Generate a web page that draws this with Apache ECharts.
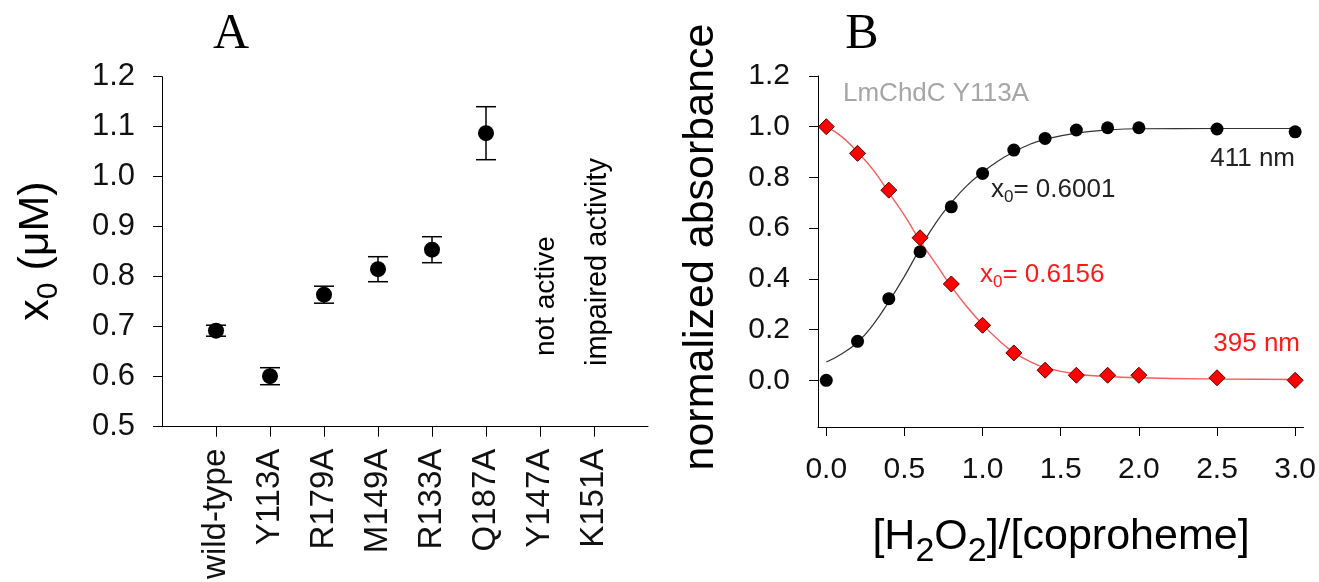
<!DOCTYPE html>
<html>
<head>
<meta charset="utf-8">
<script src="https://cdn.jsdelivr.net/npm/echarts@6/dist/echarts.min.js"></script>
<style>
html,body{margin:0;padding:0;background:#fff;}
#chart{width:1319px;height:582px;}
</style>
</head>
<body>
<div id="chart"></div>
<script>
// ---- Panel A data ----
const categories = ['wild-type', 'Y113A', 'R179A', 'M149A', 'R133A', 'Q187A', 'Y147A', 'K151A'];
const x0Mean = [0.692, 0.601, 0.764, 0.815, 0.854, 1.087];
const x0Err = [0.011, 0.017, 0.017, 0.025, 0.026, 0.053];
const yTicksA = [0.5, 0.6, 0.7, 0.8, 0.9, 1.0, 1.1, 1.2];

// ---- Panel B data ----
const ratio = [0, 0.2, 0.4, 0.6, 0.8, 1.0, 1.2, 1.4, 1.6, 1.8, 2.0, 2.5, 3.0];
const abs411 = [0.0, 0.154, 0.322, 0.507, 0.684, 0.816, 0.908, 0.954, 0.987, 0.996, 0.996, 0.991, 0.980];
const abs395 = [1.0, 0.895, 0.750, 0.562, 0.380, 0.217, 0.108, 0.040, 0.020, 0.020, 0.020, 0.010, 0.0];
const fitX = [0, 0.1, 0.2, 0.3, 0.4, 0.5, 0.6, 0.7, 0.8, 0.9, 1.0, 1.1, 1.2, 1.3, 1.4, 1.6, 1.8, 2.0, 2.5, 3.0];
const fit411 = [0.072, 0.105, 0.150, 0.220, 0.310, 0.410, 0.520, 0.620, 0.700, 0.768, 0.820, 0.865, 0.900, 0.930, 0.950, 0.975, 0.987, 0.992, 0.993, 0.993];
const fit395 = [1.0, 0.960, 0.900, 0.830, 0.740, 0.650, 0.550, 0.460, 0.370, 0.290, 0.220, 0.160, 0.110, 0.075, 0.050, 0.025, 0.015, 0.010, 0.005, 0.003];
const xTicksB = [0, 0.5, 1.0, 1.5, 2.0, 2.5, 3.0];
const yTicksB = [0, 0.2, 0.4, 0.6, 0.8, 1.0, 1.2];

const FONT = '"Liberation Sans", Arial, sans-serif';
const SERIF = '"Liberation Serif", "Times New Roman", serif';

const chart = echarts.init(document.getElementById('chart'), null, {renderer: 'canvas'});

const pointsA = x0Mean.map((m, i) => [i + 1, m]);
const errA = x0Mean.map((m, i) => [i + 1, m, x0Err[i]]);

function errItem(params, api) {
  const x = api.value(0), m = api.value(1), e = api.value(2);
  const t = api.coord([x, m + e]);
  const b = api.coord([x, m - e]);
  const hw = 10;
  const st = {stroke: '#000', lineWidth: 1.5};
  return {type: 'group', children: [
    {type: 'line', shape: {x1: t[0], y1: t[1], x2: b[0], y2: b[1]}, style: st},
    {type: 'line', shape: {x1: t[0] - hw, y1: t[1], x2: t[0] + hw, y2: t[1]}, style: st},
    {type: 'line', shape: {x1: b[0] - hw, y1: b[1], x2: b[0] + hw, y2: b[1]}, style: st}
  ]};
}

const axisLineStyle = {show: true, onZero: false, lineStyle: {color: '#000', width: 1}};

const option = {
  animation: false,
  backgroundColor: '#fff',
  grid: [
    {left: 162, right: 671, top: 76.7, bottom: 155.3},
    {left: 818, right: 14, top: 76, bottom: 155}
  ],
  xAxis: [
    {
      gridIndex: 0, type: 'value', min: 0, max: 9,
      axisLine: axisLineStyle,
      axisTick: {show: true, length: 10, inside: false, customValues: categories.map((c, i) => i + 1), lineStyle: {color: '#000'}},
      axisLabel: {
        customValues: categories.map((c, i) => i + 1),
        rotate: 90, margin: 22, fontSize: 33, fontFamily: FONT, color: '#111',
        formatter: v => categories[Math.round(v) - 1] || ''
      },
      splitLine: {show: false}
    },
    {
      gridIndex: 1, type: 'value', min: -0.053, max: 3.053,
      axisLine: axisLineStyle,
      axisTick: {show: true, length: 9, customValues: xTicksB, lineStyle: {color: '#000'}},
      axisLabel: {customValues: xTicksB, margin: 28, fontSize: 30, fontFamily: FONT, color: '#111', formatter: v => v.toFixed(1)},
      splitLine: {show: false}
    }
  ],
  yAxis: [
    {
      gridIndex: 0, type: 'value', min: 0.5, max: 1.2,
      axisLine: axisLineStyle,
      axisTick: {show: true, length: 9, customValues: yTicksA, lineStyle: {color: '#000'}},
      axisLabel: {customValues: yTicksA, margin: 27, fontSize: 31, fontFamily: FONT, color: '#111', formatter: v => v.toFixed(1)},
      splitLine: {show: false}
    },
    {
      gridIndex: 1, type: 'value', min: -0.184, max: 1.2,
      axisLine: axisLineStyle,
      axisTick: {show: true, length: 9, customValues: yTicksB, lineStyle: {color: '#000'}},
      axisLabel: {customValues: yTicksB, margin: 28, fontSize: 30, fontFamily: FONT, color: '#111', formatter: v => v.toFixed(1)},
      splitLine: {show: false}
    }
  ],
  series: [
    {
      type: 'custom', xAxisIndex: 0, yAxisIndex: 0,
      renderItem: errItem, data: errA, encode: {x: 0, y: [1, 2]}, z: 3
    },
    {
      type: 'scatter', xAxisIndex: 0, yAxisIndex: 0,
      data: pointsA, symbol: 'circle', symbolSize: 16,
      itemStyle: {color: '#000', opacity: 1}, z: 4
    },
    {
      type: 'line', xAxisIndex: 1, yAxisIndex: 1,
      data: fitX.map((x, i) => [x, fit411[i]]), smooth: true, showSymbol: false,
      lineStyle: {color: '#333', width: 1.2}, z: 2
    },
    {
      type: 'line', xAxisIndex: 1, yAxisIndex: 1,
      data: fitX.map((x, i) => [x, fit395[i]]), smooth: true, showSymbol: false,
      lineStyle: {color: '#ff5a5a', width: 1.4}, z: 2
    },
    {
      type: 'scatter', xAxisIndex: 1, yAxisIndex: 1,
      data: ratio.map((x, i) => [x, abs411[i]]), symbol: 'circle', symbolSize: 13,
      itemStyle: {color: '#000', opacity: 1}, z: 4
    },
    {
      type: 'scatter', xAxisIndex: 1, yAxisIndex: 1,
      data: ratio.map((x, i) => [x, abs395[i]]), symbol: 'diamond', symbolSize: 16,
      itemStyle: {color: '#ff0000', borderColor: '#5a0000', borderWidth: 1, opacity: 1}, z: 5
    }
  ],
  graphic: [
    {type: 'text', x: 231, y: 35, style: {text: 'A', fontSize: 50, fontFamily: SERIF, fill: '#000', align: 'center', verticalAlign: 'middle'}},
    {type: 'text', x: 862, y: 35, style: {text: 'B', fontSize: 50, fontFamily: SERIF, fill: '#000', align: 'center', verticalAlign: 'middle'}},
    {
      type: 'text', x: 36, y: 251, rotation: Math.PI / 2,
      style: {
        text: '{m|x}{s|0}{m| (μM)}', align: 'center', verticalAlign: 'middle',
        rich: {
          m: {fontSize: 43, fontFamily: FONT, fill: '#000', lineHeight: 56},
          s: {fontSize: 30, fontFamily: FONT, fill: '#000', lineHeight: 30, verticalAlign: 'bottom'}
        }
      }
    },
    {
      type: 'text', x: 701, y: 247, rotation: Math.PI / 2,
      style: {text: 'normalized absorbance', fontSize: 43, fontFamily: FONT, fill: '#000', align: 'center', verticalAlign: 'middle'}
    },
    {
      type: 'text', x: 1061, y: 537,
      style: {
        text: '{m|[H}{s|2}{m|O}{s|2}{m|]/[coproheme]}', align: 'center', verticalAlign: 'middle',
        rich: {
          m: {fontSize: 43, fontFamily: FONT, fill: '#000', lineHeight: 64, verticalAlign: 'middle'},
          s: {fontSize: 34, fontFamily: FONT, fill: '#000', lineHeight: 34, verticalAlign: 'bottom'}
        }
      }
    },
    {type: 'text', x: 546, y: 356, rotation: Math.PI / 2, style: {text: 'not active', fontSize: 28, fontFamily: FONT, fill: '#000', align: 'left', verticalAlign: 'middle'}},
    {type: 'text', x: 598, y: 366, rotation: Math.PI / 2, style: {text: 'impaired activity', fontSize: 29, fontFamily: FONT, fill: '#000', align: 'left', verticalAlign: 'middle'}},
    {type: 'text', x: 843, y: 94, style: {text: 'LmChdC Y113A', fontSize: 26, fontFamily: FONT, fill: '#a6a6a6', align: 'left', verticalAlign: 'middle'}},
    {
      type: 'text', x: 991, y: 190,
      style: {
        text: '{m|x}{s|0}{m|= 0.6001}', align: 'left', verticalAlign: 'middle',
        rich: {
          m: {fontSize: 26, fontFamily: FONT, fill: '#222', lineHeight: 32},
          s: {fontSize: 17, fontFamily: FONT, fill: '#222', lineHeight: 17, verticalAlign: 'bottom'}
        }
      }
    },
    {
      type: 'text', x: 980, y: 275,
      style: {
        text: '{m|x}{s|0}{m|= 0.6156}', align: 'left', verticalAlign: 'middle',
        rich: {
          m: {fontSize: 26, fontFamily: FONT, fill: '#ff1a1a', lineHeight: 32},
          s: {fontSize: 17, fontFamily: FONT, fill: '#ff1a1a', lineHeight: 17, verticalAlign: 'bottom'}
        }
      }
    },
    {type: 'text', x: 1295, y: 159, style: {text: '411 nm', fontSize: 26, fontFamily: FONT, fill: '#222', align: 'right', verticalAlign: 'middle'}},
    {type: 'text', x: 1300, y: 344, style: {text: '395 nm', fontSize: 26, fontFamily: FONT, fill: '#ff1a1a', align: 'right', verticalAlign: 'middle'}}
  ]
};

chart.setOption(option);
</script>
</body>
</html>
